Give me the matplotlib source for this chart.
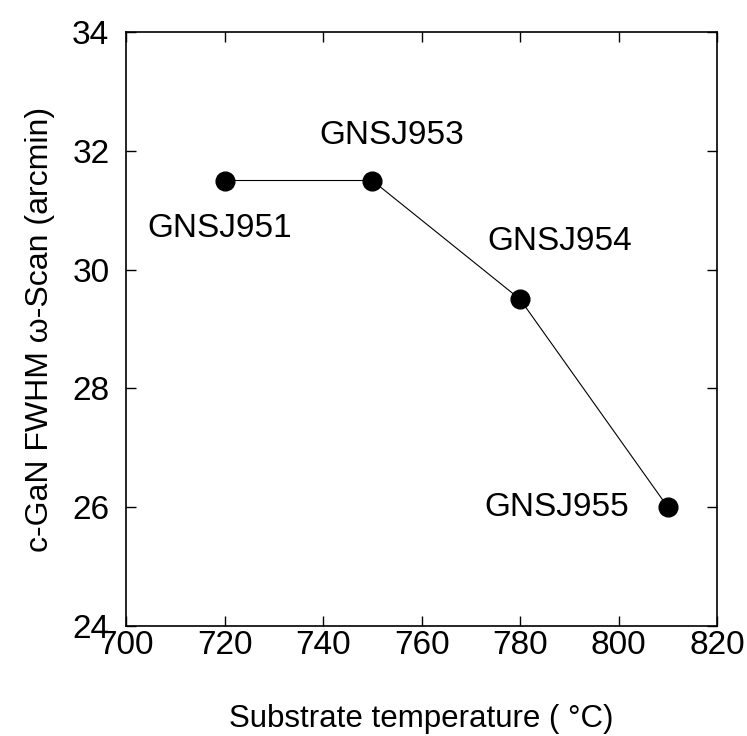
import matplotlib.pyplot as plt

plt.rcParams['font.family'] = ['Liberation Sans', 'DejaVu Sans']

temps = [720, 750, 780, 810]
fwhm = [31.5, 31.5, 29.5, 26.0]
names = ['GNSJ951', 'GNSJ953', 'GNSJ954', 'GNSJ955']
label_x = [719, 754, 788, 787.5]
label_y = [30.7, 32.25, 30.48, 26.0]

fig = plt.figure(figsize=(7.47, 7.36), dpi=100)
ax = fig.add_axes([0.1687, 0.1495, 0.7913, 0.807])

ax.plot(temps, fwhm, color='black', lw=0.8, marker='o', markersize=13.5)
for n, x, y in zip(names, label_x, label_y):
    ax.text(x, y, n, fontsize=24, ha='center', va='center')

ax.set_xlim(700, 820)
ax.set_ylim(24, 34)
ax.set_xticks(range(700, 821, 20))
ax.set_yticks(range(24, 35, 2))
ax.tick_params(direction='in', top=True, right=True, length=7, width=1,
               labelsize=24)
ax.tick_params(axis='x', pad=3)
ax.tick_params(axis='y', pad=12)
for s in ax.spines.values():
    s.set_linewidth(1.2)

ax.set_xlabel('Substrate temperature ( \u00b0C)', fontsize=22.5, labelpad=31)
ax.set_ylabel('c-GaN FWHM \u03c9-Scan (arcmin)', fontsize=23, labelpad=12)

fig.savefig('out.png', dpi=100)
